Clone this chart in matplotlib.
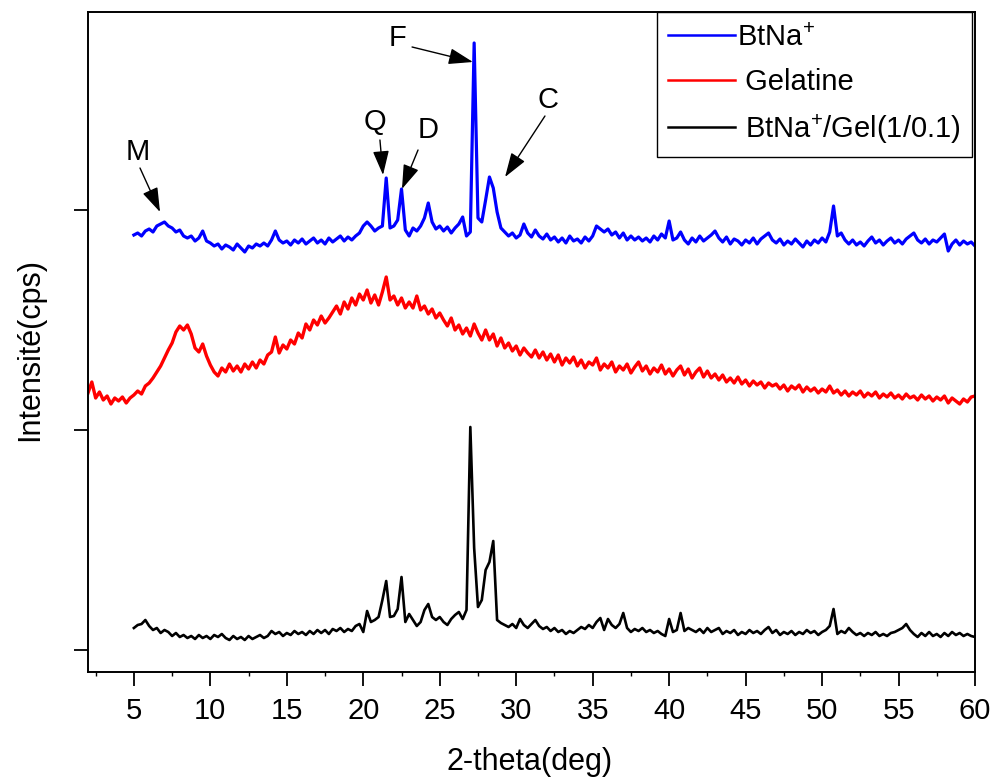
import numpy as np
import matplotlib
matplotlib.use("Agg")
import matplotlib.pyplot as plt
from matplotlib.ticker import MultipleLocator, FixedLocator, NullFormatter

plt.rcParams['font.family'] = ['Liberation Sans', 'DejaVu Sans']
plt.rcParams['mathtext.fontset'] = 'custom'
plt.rcParams['mathtext.rm'] = 'Liberation Sans'
plt.rcParams['mathtext.it'] = 'Liberation Sans:italic'

# ---------------- data (0.25 deg scan step) ----------------
btna_start, btna_step = 5.0, 0.25
btna = [437, 439, 436, 441,  443, 440, 446, 448,  450, 446, 444, 440,  442, 436, 434, 436,
        431, 434, 441, 431,  429, 426, 428, 423,  427, 425, 422, 428,  424, 420, 426, 424,
        428, 426, 429, 426,  432, 441, 432, 429,  431, 427, 432, 429,  433, 428, 431, 434,
        429, 432, 428, 434,  430, 433, 436, 431,  435, 432, 436, 439,  446, 450, 446, 441,
        444, 446, 494, 444,  446, 452, 483, 442,  436, 444, 441, 446,  454, 469, 450, 443,
        446, 441, 445, 439,  444, 448, 455, 436,  440, 629, 454, 450,  472, 495, 484, 460,
        444, 440, 436, 439,  434, 437, 448, 439,  435, 442, 436, 433,  438, 432, 435, 430,
        434, 429, 436, 431,  433, 429, 435, 431,  436, 446, 443, 440,  443, 437, 440, 434,
        439, 432, 436, 432,  435, 431, 434, 430,  436, 432, 438, 434,  451, 432, 434, 440,
        432, 428, 434, 430,  436, 431, 434, 437,  441, 434, 430, 435,  428, 433, 431, 427,
        432, 429, 434, 428,  433, 436, 439, 432,  429, 433, 427, 431,  428, 433, 429, 425,
        431, 427, 432, 429,  434, 430, 440, 466,  436, 439, 432, 428,  432, 427, 430, 426,
        431, 435, 429, 432,  427, 431, 434, 429,  432, 428, 433, 436,  439, 432, 429, 433,
        428, 432, 430, 434,  438, 421, 428, 432,  427, 431, 428, 430,  426]

gel_start, gel_step = 2.0, 0.25
gelatine = [279, 290, 274, 280,  272, 276, 268, 274,  271, 275, 269, 274,  277, 281, 278, 286,
            289, 294, 300, 306,  314, 322, 329, 340,  346, 342, 347, 338,  324, 320, 328, 316,
            307, 300, 296, 304,  300, 308, 301, 306,  300, 308, 303, 310,  304, 312, 308, 317,
            320, 335, 319, 327,  323, 332, 328, 339,  334, 348, 342, 352,  347, 356, 349, 354,
            360, 366, 358, 370,  363, 374, 367, 378,  372, 382, 369, 377,  367, 380, 395, 372,
            376, 367, 374, 364,  370, 364, 376, 362,  366, 358, 363, 354,  359, 352, 346, 354,
            342, 347, 338, 344,  336, 348, 339, 332,  342, 332, 338, 326,  334, 324, 329, 321,
            326, 317, 324, 319,  315, 322, 314, 320,  312, 318, 310, 317,  307, 314, 309, 315,
            306, 312, 304, 310,  307, 314, 302, 308,  304, 310, 300, 306,  302, 308, 299, 305,
            310, 301, 306, 298,  304, 300, 307, 298,  303, 296, 302, 306,  297, 303, 294, 300,
            304, 295, 301, 294,  298, 292, 297, 290,  294, 289, 295, 288,  292, 286, 291, 287,
            290, 284, 289, 286,  288, 283, 287, 281,  286, 283, 287, 280,  285, 281, 284, 279,
            283, 280, 286, 279,  282, 277, 281, 276,  280, 277, 281, 275,  279, 276, 280, 274,
            278, 275, 279, 274,  277, 273, 278, 274,  276, 272, 277, 273,  276, 271, 275, 272,
            276, 269, 274, 271,  268, 273, 270, 275,  276]

mix_start, mix_step = 5.0, 0.25
mix = [44, 47, 48, 52,  46, 42, 44, 39,  42, 40, 36, 39,  35, 37, 34, 36,
       33, 37, 34, 36,  33, 37, 35, 38,  34, 32, 36, 33,  35, 32, 36, 33,
       35, 37, 34, 36,  41, 38, 40, 36,  39, 37, 41, 38,  40, 37, 41, 38,
       42, 39, 42, 38,  43, 41, 44, 40,  43, 41, 46, 48,  40, 61, 50, 52,
       55, 72, 91, 55,  56, 63, 95, 50,  58, 52, 46, 50,  62, 68, 55, 52,
       55, 50, 47, 53,  57, 60, 53, 62,  245, 124, 65, 72,  102, 110, 131, 52,
       49, 47, 45, 48,  44, 53, 47, 44,  48, 52, 46, 43,  45, 41, 44, 40,
       42, 38, 41, 39,  42, 45, 43, 47,  44, 50, 54, 42,  53, 47, 44, 48,
       59, 44, 40, 43,  41, 44, 40, 42,  39, 41, 38, 36,  53, 40, 42, 59,
       41, 44, 42, 40,  43, 39, 44, 40,  42, 44, 38, 41,  39, 42, 37, 40,
       38, 42, 39, 41,  38, 42, 45, 39,  42, 37, 40, 38,  41, 37, 40, 38,
       42, 39, 41, 37,  40, 42, 46, 63,  38, 41, 39, 44,  40, 37, 39, 36,
       39, 37, 40, 36,  38, 36, 39, 40,  42, 44, 48, 42,  38, 35, 39, 36,
       40, 36, 38, 35,  39, 36, 40, 37,  39, 36, 38, 36,  35]

series_labels = [r'BtNa$^{\mathregular{+}}$', ' Gelatine', r' BtNa$^{\mathregular{+}}$/Gel(1/0.1)']
series_colors = ['#0000ff', '#ff0000', '#000000']

x_ticks = [5, 10, 15, 20, 25, 30, 35, 40, 45, 50, 55, 60]
y_ticks = [22, 242, 462]

# annotations: label, text position, arrow tail, arrow tip (data coords)
annotations = [
    ('M', (5.27, 520), (5.40, 504), (6.71, 460)),
    ('Q', (20.77, 550), (21.09, 532), (21.29, 497)),
    ('D', (24.23, 542), (23.58, 522), (22.53, 483)),
    ('F', (22.27, 634), (23.19, 625), (27.17, 610)),
    ('C', (32.08, 572), (31.88, 556), (29.27, 495)),
]

# ---------------- figure ----------------
fig = plt.figure(figsize=(9.95, 7.8), dpi=100)
ax = fig.add_axes([88/995, 108/780, 887/995, 660/780])

x_b = btna_start + btna_step*np.arange(len(btna))
x_g = gel_start + gel_step*np.arange(len(gelatine))
x_m = mix_start + mix_step*np.arange(len(mix))

ax.plot(x_b, btna, color=series_colors[0], lw=2.3, label=series_labels[0])
ax.plot(x_g, gelatine, color=series_colors[1], lw=2.4, label=series_labels[1])
ax.plot(x_m, mix, color=series_colors[2], lw=1.9, label=series_labels[2])

ax.set_xlim(2, 60)
ax.set_ylim(0, 660)
ax.xaxis.set_major_locator(FixedLocator(x_ticks))
ax.xaxis.set_minor_locator(MultipleLocator(2.5))
ax.yaxis.set_major_locator(FixedLocator(y_ticks))
ax.yaxis.set_major_formatter(NullFormatter())
ax.tick_params(axis='x', which='major', direction='out', length=10, width=1.3,
               labelsize=21, pad=8)
ax.tick_params(axis='x', which='minor', direction='out', length=3, width=1.0)
ax.tick_params(axis='y', which='major', direction='out', length=10, width=1.3)
for s in ax.spines.values():
    s.set_linewidth(1.4)

for lab, tpos, tail, tip in annotations:
    ax.annotate('', xy=tip, xytext=tail,
                arrowprops=dict(arrowstyle='-|>,head_length=0.75,head_width=0.25',
                                color='black', lw=1.0, shrinkA=0, shrinkB=0,
                                mutation_scale=20))
    ax.text(tpos[0], tpos[1], lab, fontsize=21, ha='center', va='center')

leg = ax.legend(loc='upper right', bbox_to_anchor=(0.997, 1.0), borderaxespad=0,
                fontsize=21, handlelength=2.3, handletextpad=0.05, labelspacing=0.55,
                fancybox=False, framealpha=1, edgecolor='black', borderpad=0.4)
leg.get_frame().set_linewidth(1.0)
for line in leg.get_lines():
    line.set_linewidth(1.8)

fig.text(530/995, 1-762/780, '2-theta(deg)', fontsize=22, ha='center', va='center')
fig.text(30/995, 1-350/780, 'Intensité(cps)', fontsize=22, ha='center', va='center',
         rotation=90)

fig.savefig('out.png', dpi=100)
